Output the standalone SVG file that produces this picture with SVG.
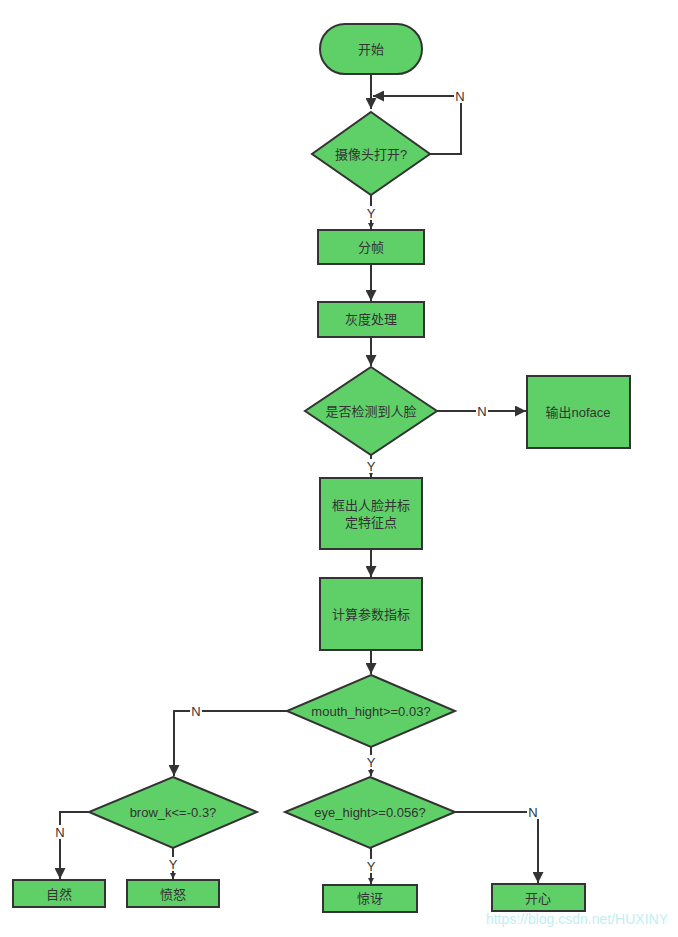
<svg xmlns="http://www.w3.org/2000/svg" width="678" height="937" viewBox="0 0 678 937">
<style>
.n{fill:#5fd068;stroke:#333;stroke-width:2}
.t{font-family:"Liberation Sans","Noto Sans CJK SC",sans-serif;font-size:13px;fill:#333;text-anchor:middle;dominant-baseline:central}
.c{fill:none;stroke:#333;stroke-width:2}
.lb{fill:#fff}
</style>
<defs>
<marker id="a" viewBox="0 0 10 10" refX="10" refY="5" markerWidth="5.5" markerHeight="5.5" orient="auto" markerUnits="strokeWidth"><path d="M0,0L10,5L0,10z" fill="#333"/></marker>
<marker id="s" viewBox="0 0 10 10" refX="10" refY="5" markerWidth="3" markerHeight="3" orient="auto" markerUnits="strokeWidth"><path d="M0,0L10,5L0,10z" fill="#333"/></marker>
</defs>
<rect width="678" height="937" fill="#fff"/>
<g id="connectors">
<path class="c" d="M371,74V109" marker-end="url(#a)"/>
<path class="c" d="M430,154H461V96H373" marker-end="url(#a)"/>
<path class="c" d="M371,195V229" marker-end="url(#s)"/>
<path class="c" d="M371,264V301" marker-end="url(#a)"/>
<path class="c" d="M371,337V366" marker-end="url(#a)"/>
<path class="c" d="M437,411H526" marker-end="url(#a)"/>
<path class="c" d="M371,455V477" marker-end="url(#s)"/>
<path class="c" d="M371,549V577" marker-end="url(#a)"/>
<path class="c" d="M371,650V674" marker-end="url(#a)"/>
<path class="c" d="M287,711H174V776" marker-end="url(#a)"/>
<path class="c" d="M371,747V776" marker-end="url(#s)"/>
<path class="c" d="M455,812H538V883" marker-end="url(#a)"/>
<path class="c" d="M371,848V884" marker-end="url(#s)"/>
<path class="c" d="M89,812H60V879" marker-end="url(#a)"/>
<path class="c" d="M173,848V879" marker-end="url(#s)"/>
<rect class="lb" x="454" y="89" width="12" height="14"/><text class="t" x="460" y="96">N</text>
<rect class="lb" x="365" y="206" width="12" height="14"/><text class="t" x="371" y="213">Y</text>
<rect class="lb" x="476" y="404" width="12" height="14"/><text class="t" x="482" y="411">N</text>
<rect class="lb" x="365" y="459" width="12" height="14"/><text class="t" x="371" y="466">Y</text>
<rect class="lb" x="190" y="704" width="12" height="14"/><text class="t" x="196" y="711">N</text>
<rect class="lb" x="365" y="755" width="12" height="14"/><text class="t" x="371" y="762">Y</text>
<rect class="lb" x="527" y="805" width="12" height="14"/><text class="t" x="533" y="812">N</text>
<rect class="lb" x="365" y="859" width="12" height="14"/><text class="t" x="371" y="866">Y</text>
<rect class="lb" x="54" y="825" width="12" height="14"/><text class="t" x="60" y="832">N</text>
<rect class="lb" x="167" y="857" width="12" height="14"/><text class="t" x="173" y="864">Y</text>
</g>
<g id="start"><rect class="n" x="320" y="24" width="102" height="50" rx="25"/><text class="t" x="371" y="49">开始</text></g>
<g id="camera"><path class="n" d="M371,112L430,154L371,195L312,154z"/><text class="t" x="371" y="154">摄像头打开?</text></g>
<g id="frame"><rect class="n" x="318" y="230" width="106" height="34"/><text class="t" x="371" y="247">分帧</text></g>
<g id="gray"><rect class="n" x="318" y="302" width="106" height="35"/><text class="t" x="371" y="319">灰度处理</text></g>
<g id="detect"><path class="n" d="M371,367L437,411L371,455L305,411z"/><text class="t" x="371" y="411">是否检测到人脸</text></g>
<g id="noface"><rect class="n" x="527" y="376" width="103" height="72"/><text class="t" x="578" y="412">输出noface</text></g>
<g id="mark"><rect class="n" x="320" y="478" width="102" height="71"/><text class="t" x="371" y="505">框出人脸并标</text><text class="t" x="371" y="522">定特征点</text></g>
<g id="calc"><rect class="n" x="320" y="578" width="102" height="72"/><text class="t" x="371" y="614">计算参数指标</text></g>
<g id="mouth"><path class="n" d="M371,675L455,711L371,747L287,711z"/><text class="t" x="371" y="711">mouth_hight&gt;=0.03?</text></g>
<g id="eye"><path class="n" d="M370,777L455,812L370,848L285,812z"/><text class="t" x="370" y="812">eye_hight&gt;=0.056?</text></g>
<g id="brow"><path class="n" d="M173,777L257,812L173,848L89,812z"/><text class="t" x="173" y="812">brow_k&lt;=-0.3?</text></g>
<g id="natural"><rect class="n" x="13" y="880" width="92" height="27"/><text class="t" x="59" y="894">自然</text></g>
<g id="angry"><rect class="n" x="127" y="880" width="92" height="27"/><text class="t" x="173" y="894">愤怒</text></g>
<g id="surprise"><rect class="n" x="323" y="885" width="94" height="27"/><text class="t" x="370" y="898">惊讶</text></g>
<g id="happy"><rect class="n" x="492" y="884" width="93" height="27"/><text class="t" x="538" y="898">开心</text></g>
<text x="668" y="919" style="font-family:'Liberation Sans',sans-serif;font-size:14px;fill:#bfeff2;text-anchor:end;dominant-baseline:central">https://blog.csdn.net/HUXINY</text>
</svg>
